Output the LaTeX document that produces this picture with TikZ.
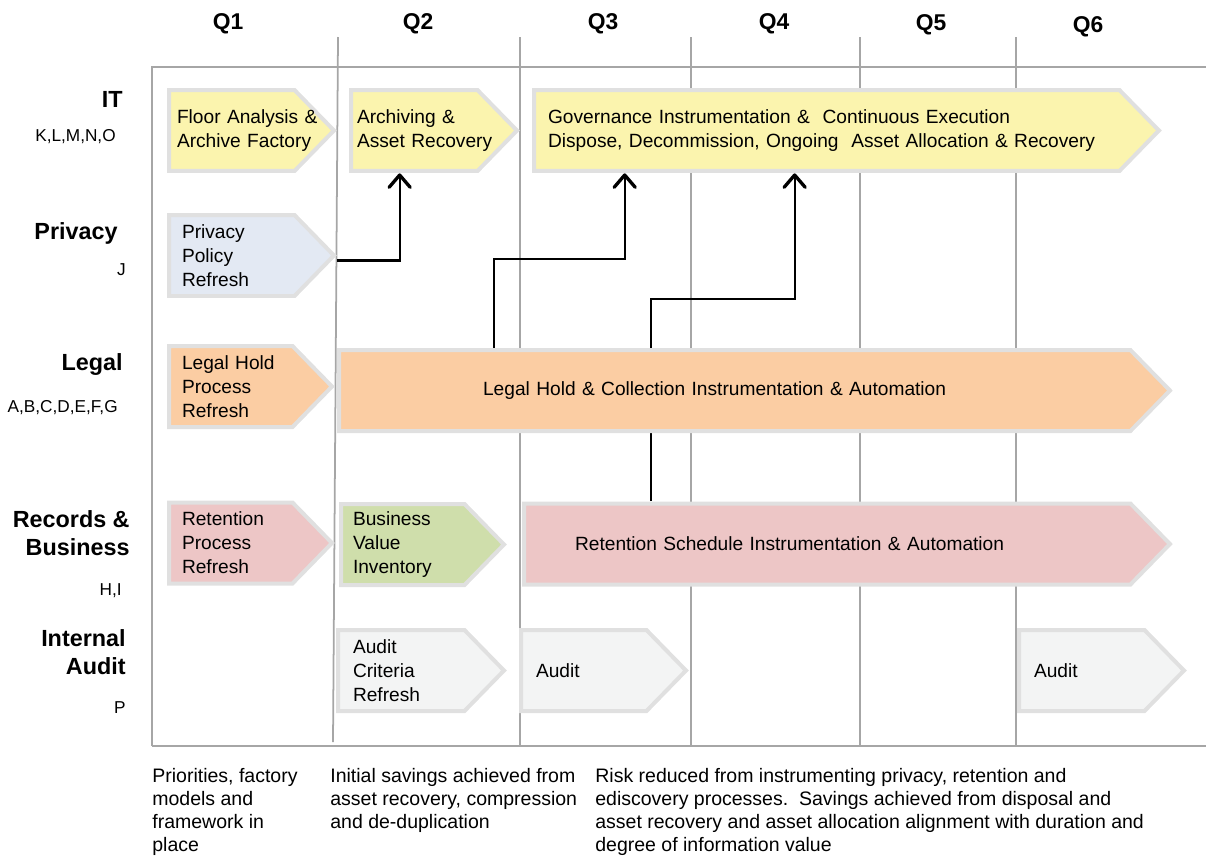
\documentclass[tikz,border=0pt]{standalone}
\usepackage{fontspec}
\setmainfont{Liberation Sans}
\usetikzlibrary{arrows.meta,backgrounds}

\definecolor{itfill}{HTML}{FBF4AE}
\definecolor{privfill}{HTML}{E3E9F3}
\definecolor{legalfill}{HTML}{FBCDA3}
\definecolor{recfill}{HTML}{EDC6C6}
\definecolor{valfill}{HTML}{CFDEAB}
\definecolor{auditfill}{HTML}{F3F4F4}
\definecolor{edgegray}{HTML}{E0E0E0}
\definecolor{gridgray}{HTML}{A6A6A6}

\newcommand\chevfont{\fontsize{10.9pt}{13.6pt}\selectfont}

\begin{document}
\begin{tikzpicture}[x=0.02cm,y=-0.02cm,
    chev/.style={rectangle,minimum height=1.7cm,inner ysep=1pt,align=left,font=\chevfont,
      path picture={\draw[line width=0.08cm,draw=edgegray,fill=#1]
        ([shift={(0.04cm,-0.04cm)}]path picture bounding box.north west) --
        ([shift={(-0.85cm,-0.04cm)}]path picture bounding box.north east) --
        ([xshift=-0.06cm]path picture bounding box.east) --
        ([shift={(-0.85cm,0.04cm)}]path picture bounding box.south east) --
        ([shift={(0.04cm,0.04cm)}]path picture bounding box.south west) -- cycle;}},
    rowlabel/.style={anchor=base east,align=right,inner sep=0pt,font=\fontsize{13.3pt}{15.9pt}\selectfont\bfseries},
    keys/.style={anchor=base east,inner sep=0pt,font=\fontsize{9.8pt}{12pt}\selectfont},
    qlabel/.style={anchor=base,inner sep=0pt,font=\fontsize{13pt}{15pt}\selectfont\bfseries},
    note/.style={anchor=base west,align=left,inner sep=0pt,font=\fontsize{11.1pt}{13pt}\selectfont},
    grid line/.style={draw=gridgray,line width=1pt},
    link/.style={line width=1.3pt,-{Straight Barb[length=7pt,width=12pt,line width=1.9pt,round]}}]
  \useasboundingbox (0,0) rectangle (1206,856);

  \foreach \q/\x/\y in {1/228/29,2/418/29,3/603/29,4/774/29,5/931/30,6/1088/32}
    \node[qlabel] (q\q) at (\x,\y) {Q\q};

  \node[rowlabel] (it) at (123,107) {IT};
  \node[keys] (itkeys) at (116,141) {K,L,M,N,O};
  \node[rowlabel] (priv) at (118,239) {Privacy};
  \node[keys] (privkeys) at (126,275) {J};
  \node[rowlabel] (legal) at (123,370) {Legal};
  \node[keys] (legalkeys) at (118,412) {A,B,C,D,E,F,G};
  \node[rowlabel] (records) at (130,555) {Records \&\\Business};
  \node[keys] (reckeys) at (122,595) {H,I};
  \node[rowlabel] (internal) at (126,674) {Internal\\Audit};
  \node[keys] (auditkeys) at (126,713) {P};

  \node[chev=itfill,text width=3cm,inner xsep=0.2cm] (floor) at (252,130.5) {Floor Analysis \&\\Archive Factory};
  \node[chev=itfill,text width=3.1cm,inner xsep=0.16cm] (archive) at (434.5,130.5) {Archiving \&\\Asset Recovery};
  \node[chev=itfill,text width=11.96cm,inner xsep=0.32cm] (govern) at (847,130.5) {Governance Instrumentation \& \ Continuous Execution\\Dispose, Decommission, Ongoing \ Asset Allocation \& Recovery};
  \node[chev=privfill,text width=2.8cm,inner xsep=0.3cm] (privacy) at (252,255.5) {Privacy\\Policy\\Refresh};
  \node[chev=legalfill,text width=2.76cm,inner xsep=0.3cm] (holdproc) at (251,386.5) {Legal Hold\\Process\\Refresh};
  \node[chev=legalfill,text width=10.88cm,inner xsep=2.92cm] (holdauto) at (755,390.5) {Legal Hold \& Collection Instrumentation \& Automation};
  \node[chev=recfill,text width=2.76cm,inner xsep=0.3cm] (retproc) at (251,543) {Retention\\Process\\Refresh};
  \node[chev=valfill,text width=2.8cm,inner xsep=0.28cm] (value) at (423,544.5) {Business\\Value\\Inventory};
  \node[chev=recfill,text width=10.9cm,inner xsep=1.06cm] (retsched) at (847.5,544) {Retention Schedule Instrumentation \& Automation};
  \node[chev=auditfill,text width=2.74cm,inner xsep=0.34cm] (criteria) at (421.5,670.5) {Audit\\Criteria\\Refresh};
  \node[chev=auditfill,text width=2.72cm,inner xsep=0.34cm] (audit1) at (604,670.5) {Audit};
  \node[chev=auditfill,text width=2.72cm,inner xsep=0.34cm] (audit2) at (1102,670.5) {Audit};

  \node[note] (note1) at (152,851) {Priorities, factory\\models and\\framework in\\place};
  \node[note] (note2) at (330,828) {Initial savings achieved from\\asset recovery, compression\\and de-duplication};
  \node[note] (note3) at (595,851) {Risk reduced from instrumenting privacy, retention and\\ediscovery processes.\ \ Savings achieved from disposal and\\asset recovery and asset allocation alignment with duration and\\degree of information value};

  \begin{scope}[on background layer]
    \draw[grid line] (152,746) -- (152,67) -- (1206,67);
    \draw[grid line] (152,746) -- (1206,746);
    \draw[grid line] (338,37) -- (333,742);
    \foreach \x in {520,691,860,1016}
      \draw[grid line] (\x,37) -- (\x,746);
    \draw[link] ([yshift=-0.1cm]privacy.east) -| ([xshift=1.02cm]archive.south west);
    \draw[link] ([xshift=3.14cm]holdauto.north west) |- ([shift={(1.86cm,-1.72cm)}]govern.south west) -- ([xshift=1.86cm]govern.south west);
    \draw[link] ([xshift=2.58cm]retsched.north west) |- ([shift={(5.26cm,-2.52cm)}]govern.south west) -- ([xshift=5.26cm]govern.south west);
  \end{scope}
\end{tikzpicture}
\end{document}
